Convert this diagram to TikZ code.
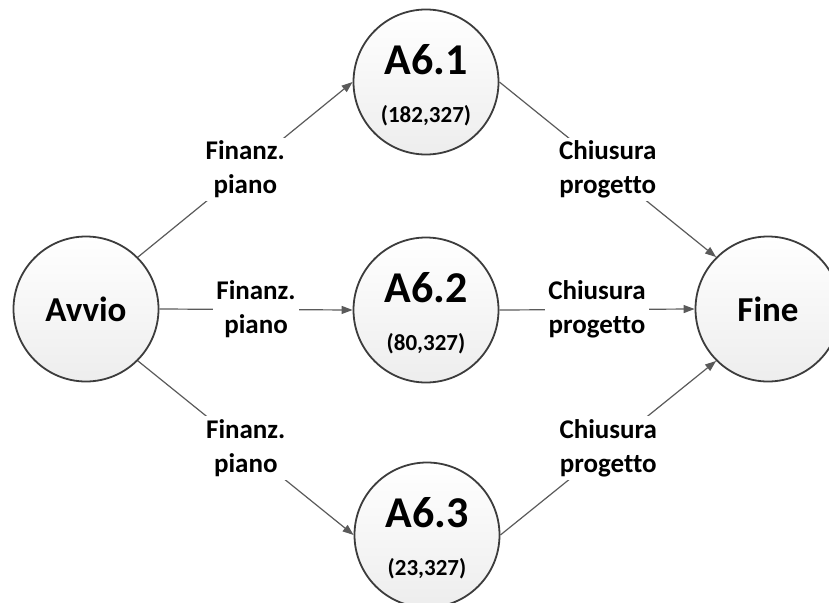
\documentclass[tikz,border=0pt]{standalone}
\usepackage{fontspec}
\setmainfont[Ligatures=NoCommon]{Carlito}
\usetikzlibrary{arrows.meta}
\definecolor{edgegray}{HTML}{5A5A5A}
\definecolor{rimgray}{HTML}{3C3C3C}
\tikzset{
  stage/.style={circle, draw=rimgray, line width=1.8pt, minimum size=145pt, inner sep=0pt,
    top color=white, bottom color=black!7, shading angle=0},
  bigtxt/.style={font=\bfseries\fontsize{44}{44}\selectfont, inner sep=0pt},
  midtxt/.style={font=\bfseries\fontsize{35}{35}\selectfont, inner sep=0pt},
  smalltxt/.style={font=\bfseries\fontsize{23}{23}\selectfont, inner sep=0pt},
  lbl/.style={fill=white, align=center, inner sep=3pt, font=\bfseries\fontsize{27}{34}\selectfont},
  conn/.style={draw=edgegray, line width=1.2pt, -{Triangle[length=11pt,width=8pt]}},
}
\begin{document}
\begin{tikzpicture}[x=1pt,y=-1pt]
\useasboundingbox (0,0) rectangle (829,602);
\node[stage] (avvio) at (86,309) {};
\node[midtxt] (tavvio) at (avvio.center) {Avvio};
\node[stage] (a1) at (426,82) {};
\node[stage] (a2) at (426,310) {};
\node[stage] (a3) at (427,535) {};
\node[stage] (fine) at (768,309) {};
\node[midtxt] (tfine) at (fine.center) {Fine};
\node[bigtxt] (ta1) at ([yshift=22pt]a1.center) {A6.1};
\node[smalltxt] (sa1) at ([yshift=-34pt]a1.center) {(182,327)};
\node[bigtxt] (ta2) at ([yshift=22pt]a2.center) {A6.2};
\node[smalltxt] (sa2) at ([yshift=-34pt]a2.center) {(80,327)};
\node[bigtxt] (ta3) at ([yshift=22pt]a3.center) {A6.3};
\node[smalltxt] (sa3) at ([yshift=-34pt]a3.center) {(23,327)};
\draw[conn] (avvio.45) -- node[lbl] {Finanz.\\piano} (a1.west);
\draw[conn] (avvio.east) -- node[lbl] {Finanz.\\piano} (a2.west);
\draw[conn] (avvio.-45) -- node[lbl] {Finanz.\\piano} (a3.west);
\draw[conn] (a1.east) -- node[lbl] {Chiusura\\progetto} (fine.135);
\draw[conn] (a2.east) -- node[lbl] {Chiusura\\progetto} (fine.west);
\draw[conn] (a3.east) -- node[lbl] {Chiusura\\progetto} (fine.-135);
\end{tikzpicture}
\end{document}
